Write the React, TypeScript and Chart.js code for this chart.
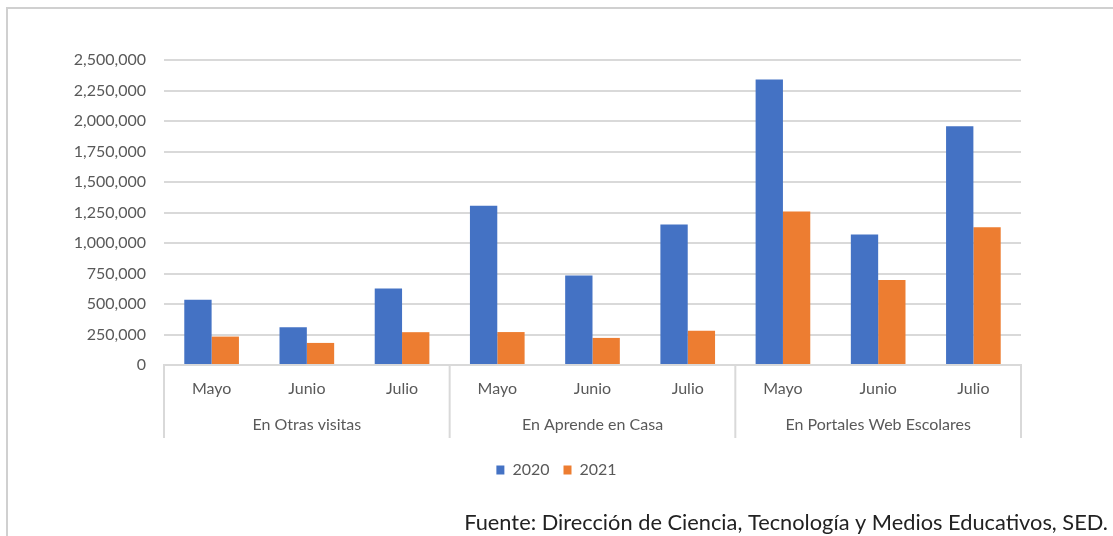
import React, { useEffect, useRef } from "react";
import { Chart, registerables } from "chart.js";

Chart.register(...registerables);

const months = ["Mayo", "Junio", "Julio", "Mayo", "Junio", "Julio", "Mayo", "Junio", "Julio"];
const groups = ["En Otras visitas", "En Aprende en Casa", "En Portales Web Escolares"];
const groupSize = 3;
const series2020 = [535000, 310000, 627000, 1305000, 734000, 1151000, 2341000, 1069000, 1957000];
const series2021 = [233000, 181000, 269000, 270000, 222000, 280000, 1258000, 696000, 1129000];
const seriesLabels = ["2020", "2021"];
const sourceText = "Fuente: Dirección de Ciencia, Tecnología y Medios Educativos, SED.";

const FONT = "Lato";
const TEXT = "#595959";
const GRID = "#d9d9d9";

const groupPlugin = {
  id: "groupAxis",
  afterDraw(chart: any) {
    const x = chart.scales.x;
    const ctx = chart.ctx;
    const boundaries: number[] = [x.left];
    for (let g = 1; g < groups.length; g++) {
      const i = g * groupSize;
      boundaries.push((x.getPixelForValue(i - 1) + x.getPixelForValue(i)) / 2);
    }
    boundaries.push(x.right);
    ctx.save();
    ctx.strokeStyle = GRID;
    ctx.lineWidth = 2;
    const top = x.top;
    const bottom = x.top + 73;
    boundaries.forEach((b) => {
      ctx.beginPath();
      ctx.moveTo(b, top);
      ctx.lineTo(b, bottom);
      ctx.stroke();
    });
    ctx.fillStyle = TEXT;
    ctx.font = `16px ${FONT}`;
    ctx.textAlign = "center";
    ctx.textBaseline = "middle";
    groups.forEach((g, i) => {
      const cx = (boundaries[i] + boundaries[i + 1]) / 2;
      ctx.fillText(g, cx, x.top + 60);
    });
    // source note
    ctx.fillStyle = "#222222";
    ctx.font = `21.8px ${FONT}`;
    ctx.textAlign = "right";
    ctx.fillText(sourceText, chart.width - 5, chart.height - 13);
    ctx.restore();
  },
};

export default function App() {
  const ref = useRef<HTMLCanvasElement>(null);
  useEffect(() => {
    if (!ref.current) return;
    const chart = new Chart(ref.current, {
      type: "bar",
      data: {
        labels: months,
        datasets: [
          { label: seriesLabels[0], data: series2020, backgroundColor: "#4472C4", yAxisID: "y" },
          { label: seriesLabels[1], data: series2021, backgroundColor: "#ED7D31", yAxisID: "y" },
        ],
      },
      options: {
        animation: false,
        responsive: false,
        maintainAspectRatio: false,
        layout: { padding: { top: 60, right: 0, left: 0, bottom: 48 } },
        datasets: { bar: { categoryPercentage: 0.574, barPercentage: 1 } },
        scales: {
          x: {
            grid: { display: false, drawTicks: false },
            border: { display: true, color: GRID, width: 2 },
            ticks: { color: TEXT, font: { family: FONT, size: 16 }, padding: 14, maxRotation: 0 },
            afterFit(scale: any) {
              scale.height = 83;
            },
          },
          y: {
            min: 0,
            max: 2500000,
            grid: { color: GRID, lineWidth: 2, drawTicks: false },
            border: { display: false },
            ticks: {
              stepSize: 250000,
              color: TEXT,
              font: { family: FONT, size: 16 },
              padding: 18,
              callback: (v: any) => Number(v).toLocaleString("en-US"),
            },
            afterFit(scale: any) {
              scale.width = 164;
            },
          },
          y2: {
            position: "right",
            min: 0,
            max: 2500000,
            grid: { display: false, drawOnChartArea: false, drawTicks: false },
            border: { display: false },
            ticks: { display: false },
            afterFit(scale: any) {
              scale.width = 92;
            },
          },
        },
        plugins: {
          legend: {
            position: "bottom",
            labels: {
              color: TEXT,
              font: { family: FONT, size: 16 },
              boxWidth: 8,
              boxHeight: 9,
              padding: 14,
            },
          },
          tooltip: { enabled: false },
        },
      },
      plugins: [groupPlugin],
    });
    return () => chart.destroy();
  }, []);
  return (
    <div style={{ position: "absolute", left: 0, top: 0, width: 1113, height: 536, background: "#fff", overflow: "hidden" }}>
      <div style={{ position: "absolute", left: 6, top: 7, width: 1200, height: 600, border: "2px solid #d0d0d0" }} />
      <canvas ref={ref} width={1113} height={536} style={{ position: "absolute", left: 0, top: 0 }} />
    </div>
  );
}
